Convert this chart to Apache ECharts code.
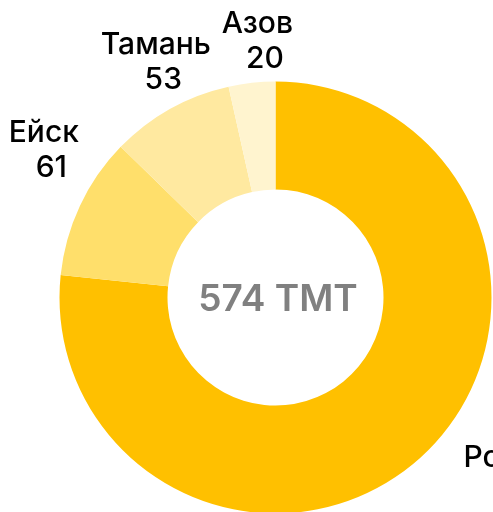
<!DOCTYPE html>
<html>
<head>
<meta charset="utf-8">
<script src="https://cdn.jsdelivr.net/npm/echarts@6/dist/echarts.min.js"></script>
<style>
  html, body { margin: 0; padding: 0; background: #fff; }
  #chart { width: 493px; height: 512px; }
</style>
</head>
<body>
<div id="chart"></div>
<script>
// данные
const regions = ['Ростов', 'Ейск', 'Тамань', 'Азов']
const volumes = [440, 61, 53, 20]
const unit = 'TMT'

const colors = ['#FFC000', '#FFDF6B', '#FFE9A0', '#FFF4CF']
// сдвиг подписей относительно стандартной позиции
const labelNudge = [[67, -14], [2, -38], [6, -10], [10, 0]]

const total = volumes.reduce((a, b) => a + b, 0)

const chart = echarts.init(document.getElementById('chart'))
chart.setOption({
  animation: false,
  graphic: [{
    type: 'text',
    x: 278,
    y: 300,
    style: {
      text: total + ' ' + unit,
      fill: '#808080',
      font: '600 37px Inter, "Liberation Sans", sans-serif',
      align: 'center',
      verticalAlign: 'middle'
    }
  }],
  series: [{
    type: 'pie',
    center: [275.5, 297.5],
    radius: [108, 216],
    startAngle: 90,
    clockwise: true,
    avoidLabelOverlap: false,
    data: regions.map((name, i) => ({
      name,
      value: volumes[i],
      itemStyle: { color: colors[i] }
    })),
    label: {
      show: true,
      position: 'outside',
      formatter: '{n|{b}}\n{v|{c}}',
      color: '#000',
      fontSize: 30,
      fontWeight: 500,
      lineHeight: 35,
      fontFamily: 'Inter, "Liberation Sans", sans-serif',
      distanceToLabelLine: 0,
      rich: {
        n: { fontSize: 30, fontWeight: 500, lineHeight: 35, fontFamily: 'Inter, sans-serif', color: '#000' },
        v: { fontSize: 30, fontWeight: 500, lineHeight: 35, fontFamily: 'Inter, sans-serif', color: '#000', padding: [0, 0, 0, 15] }
      }
    },
    labelLine: { show: false, length: 42, length2: 0 },
    labelLayout: (p) => ({
      align: 'center',
      verticalAlign: 'middle',
      dx: labelNudge[p.dataIndex][0],
      dy: labelNudge[p.dataIndex][1]
    }),
    emphasis: { disabled: true }
  }]
})
</script>
</body>
</html>
